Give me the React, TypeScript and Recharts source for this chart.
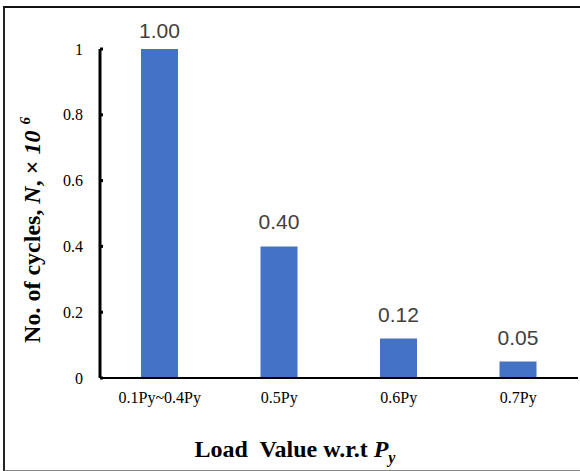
import { BarChart, Bar, XAxis, YAxis, LabelList, Label } from 'recharts';

const loads = ['0.1Py~0.4Py', '0.5Py', '0.6Py', '0.7Py'];
const cycles = [1.0, 0.4, 0.12, 0.05];
const yTicks = [0, 0.2, 0.4, 0.6, 0.8, 1];

const data = loads.map((load, i) => ({ load, cycles: cycles[i] }));

const serif = '"Liberation Serif", "Times New Roman", serif';

const XTitle = () => (
  <text
    x={295}
    y={457}
    textAnchor="middle"
    fontFamily={serif}
    fontWeight="bold"
    fontSize={24}
    fill="#000"
    style={{ whiteSpace: 'pre' }}
  >
    {'Load  Value w.r.t '}
    <tspan fontStyle="italic">P</tspan>
    <tspan fontStyle="italic" fontSize={16} dy={6}>y</tspan>
  </text>
);

const YTitle = () => (
  <text
    x={40}
    y={230}
    transform="rotate(-90, 40, 230)"
    textAnchor="middle"
    fontFamily={serif}
    fontWeight="bold"
    fontSize={24}
    fill="#000"
    style={{ whiteSpace: 'pre' }}
  >
    {'No. of cycles, '}
    <tspan fontStyle="italic">N</tspan>
    {', × '}
    <tspan fontStyle="italic">{'10 '}</tspan>
    <tspan fontStyle="italic" fontSize={15} dy={-10}>6</tspan>
  </text>
);

// value label above bar, kept from running off the top of the frame
const BarValue = (props: any) => {
  const { x, y, width, value } = props;
  return (
    <text
      x={x + width / 2}
      y={Math.max(y - 17, 38)}
      textAnchor="middle"
      fontSize={21}
      fill="#404040"
      fontFamily='"Liberation Sans", Arial, sans-serif'
    >
      {Number(value).toFixed(2)}
    </text>
  );
};

export default function App() {
  return (
    <div style={{ position: 'absolute', left: 0, top: 0, width: 580, height: 471, background: '#fff' }}>
      <div
        style={{
          position: 'absolute',
          left: 3,
          top: 6,
          width: 600,
          height: 462,
          borderTop: '2px solid #111',
          borderLeft: '2px solid #222',
          borderBottom: '2px solid #888',
        }}
      />
      <BarChart
        width={580}
        height={471}
        data={data}
        margin={{ top: 49, right: 2, bottom: 0, left: 0 }}
        style={{ position: 'absolute', left: 0, top: 0 }}
      >
        <XAxis
          dataKey="load"
          height={93}
          axisLine={{ stroke: '#000', strokeWidth: 2 }}
          tickLine={false}
          tickMargin={8}
          tick={{ fontSize: 16, fill: '#000', fontFamily: serif }}
        >
          <Label content={() => <XTitle />} />
        </XAxis>
        <YAxis
          width={100}
          domain={[0, 1]}
          ticks={yTicks}
          axisLine={{ stroke: '#000', strokeWidth: 3 }}
          tickLine={{ stroke: '#000', strokeWidth: 3 }}
          tickSize={-3}
          tickMargin={20}
          tick={{ fontSize: 16, fill: '#000', fontFamily: serif }}
        >
          <Label content={() => <YTitle />} />
        </YAxis>
        <Bar dataKey="cycles" fill="#4472C4" barSize={37} isAnimationActive={false}>
          <LabelList dataKey="cycles" content={BarValue} />
        </Bar>
      </BarChart>
    </div>
  );
}
